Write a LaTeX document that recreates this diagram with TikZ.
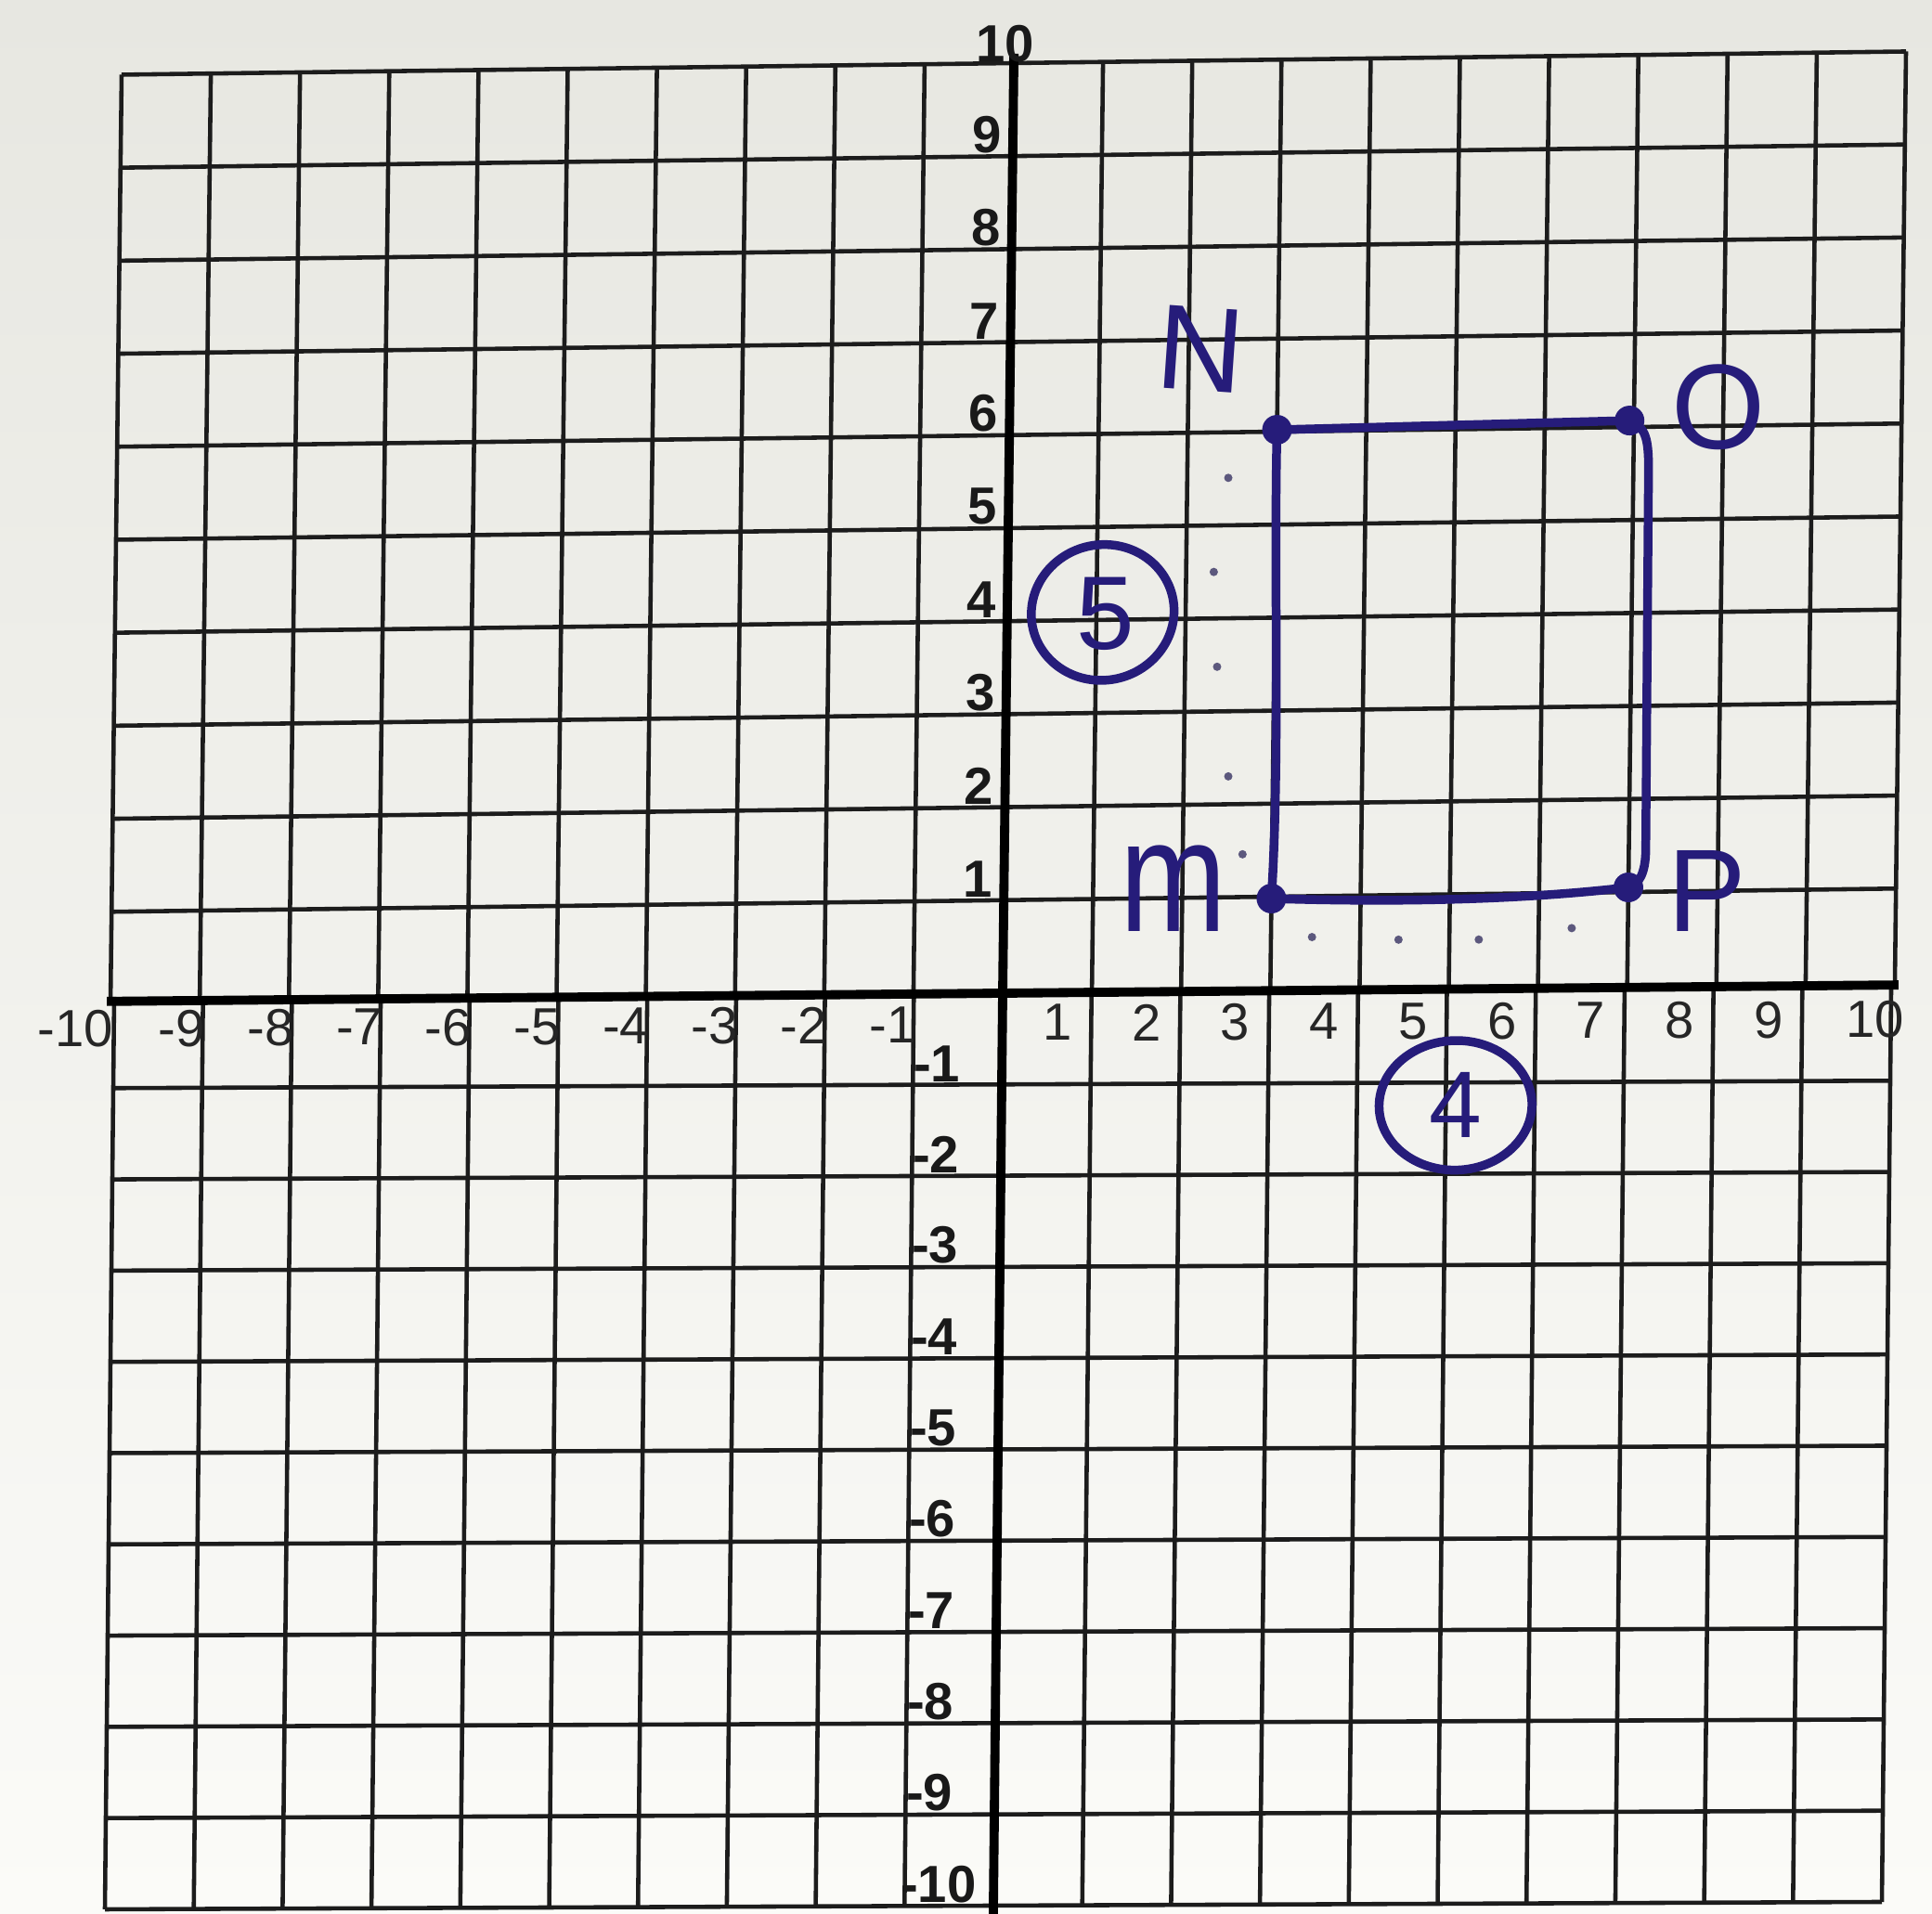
\documentclass[tikz,border=0pt]{standalone}
\usepackage{fontspec}
\setmainfont{Liberation Sans}
\definecolor{ink}{RGB}{38,28,122}
\definecolor{paperTop}{RGB}{231,231,225}
\definecolor{paperBot}{RGB}{251,251,248}
\definecolor{gridc}{RGB}{28,28,28}
\tikzset{
  upper/.style={cm={0.961,0.0125,0.012,1.002,(10.80,9.92)}},
  lower/.style={cm={0.957,0.004,0.010,0.983,(10.80,9.92)}},
  middle/.style={cm={0.960,0.0088,0.011,1.0,(10.80,9.92)}},
  gridline/.style={line width=1.3pt, draw=gridc},
  axisline/.style={line width=2.8pt, draw=black},
  xlab/.style={inner sep=0pt, font=\fontsize{16}{16}\selectfont, text=black!85},
  ylab/.style={inner sep=0pt, font=\fontsize{16}{16}\selectfont\bfseries, text=black!90},
  pen/.style={draw=ink, line width=2.7pt, line cap=round, line join=round},
  vertex/.style={circle, fill=ink, inner sep=0pt, minimum size=0.32cm},
  hand/.style={text=ink, inner sep=0pt},
  pencil/.style={circle, fill=ink!40!gray, inner sep=0pt, minimum size=0.09cm},
}
\begin{document}
\begin{tikzpicture}
\useasboundingbox (0,0) rectangle (20.81,20.62);
\shade[top color=paperTop, bottom color=paperBot] (0,0) rectangle (20.81,20.62);

% ---------- upper half of the grid ----------
\begin{scope}[upper]
  \foreach \i in {-10,...,10} \draw[gridline] (\i,0) -- (\i,10);
  \foreach \j in {1,...,10} \draw[gridline] (-10,\j) -- (10,\j);
  \draw[axisline] (0,0) -- (0,10.1);
  % y labels (positive)
  \foreach \j in {1,...,9}
    \node[ylab, anchor=south east] (yp\j) at (-0.12,\j+0.03) {\j};
  \node[ylab, anchor=south] (yp10) at (-0.1,10.0) {10};
\end{scope}

% ---------- lower half of the grid ----------
\begin{scope}[lower]
  \foreach \i in {-10,...,10} \draw[gridline] (\i,-10) -- (\i,0);
  \foreach \j in {-10,...,-1} \draw[gridline] (-10,\j) -- (10,\j);
  \draw[axisline] (0,-10.1) -- (0,0);
  % x labels
  \foreach \i in {1,...,9}
    \node[xlab, anchor=north] (xp\i) at (\i-0.38,-0.12) {\i};
  \node[xlab, anchor=north] (xp10) at (9.82,-0.12) {10};
  \foreach \i in {1,...,9}
    \node[xlab, anchor=north east] (xn\i) at (-\i+0.03,-0.14) {-\i};
  \node[xlab, anchor=north east] (xn10) at (-10.0,-0.14) {-10};
  % y labels (negative)
  \foreach \j in {1,...,9}
    \node[ylab, anchor=south west] (yn\j) at (-1.0,-\j+0.03) {-\j};
  \node[ylab, anchor=south west] (yn10) at (-1.05,-9.97) {-10};
  % circled 4
  \node[hand, font=\fontsize{29}{29}\selectfont] (four) at (5.11,-1.25) {4};
  \draw[pen] (four.center) ellipse [x radius=0.86, y radius=0.71];
\end{scope}

% ---------- x axis ----------
\begin{scope}[middle]
  \draw[axisline] (-10.05,0) -- (10.05,0);
\end{scope}

% ---------- handwritten figure ----------
\begin{scope}[upper]
  \node[vertex] (M) at (3.0,0.98) {};
  \node[vertex] (N) at (3.0,6.02) {};
  \node[vertex] (O) at (6.95,6.07) {};
  \node[vertex] (P) at (7.0,1.05) {};
  \coordinate (r1) at (7.17,5.6);
  \coordinate (r2) at (7.19,1.45);
  \draw[pen] (M.center) .. controls (3.08,2.5) and (2.98,4.5) .. (N.center);
  \draw[pen] (N.center) -- (O.center);
  \draw[pen] (O.center) .. controls (7.14,6.0) and (7.16,5.85) .. (r1) -- (r2)
             .. controls (7.19,1.2) and (7.12,1.08) .. (P.center);
  \draw[pen] (P.center) .. controls (5.8,0.93) and (4.4,0.92) .. (M.center);

  \node[hand, font=\fontsize{37}{37}\selectfont, rotate=-4] (lN) at (2.13,6.9) {N};
  \node[hand, font=\fontsize{37}{37}\selectfont] (lO) at (7.95,6.2) {O};
  \node[hand, font=\fontsize{49}{49}\selectfont] (lM) at (1.9,1.1) {\scalebox{0.8}[1]{m}};
  \node[hand, font=\fontsize{36}{36}\selectfont] (lP) at (7.88,1.0) {P};

  % circled 5
  \node[hand, font=\fontsize{32}{32}\selectfont] (five) at (1.1,4.06) {5};
  \draw[pen] (1.07,4.08) ellipse [x radius=0.8, y radius=0.73];

  % counting dots
  \node[pencil] (d1) at (2.46,5.51) {};
  \node[pencil] (d2) at (2.31,4.50) {};
  \node[pencil] (d3) at (2.36,3.48) {};
  \node[pencil] (d4) at (2.50,2.30) {};
  \node[pencil] (d5) at (2.67,1.46) {};
  \node[pencil] (e1) at (3.46,0.56) {};
  \node[pencil] (e2) at (4.43,0.52) {};
  \node[pencil] (e3) at (5.33,0.51) {};
  \node[pencil] (e4) at (6.37,0.62) {};
\end{scope}
\end{tikzpicture}
\end{document}
